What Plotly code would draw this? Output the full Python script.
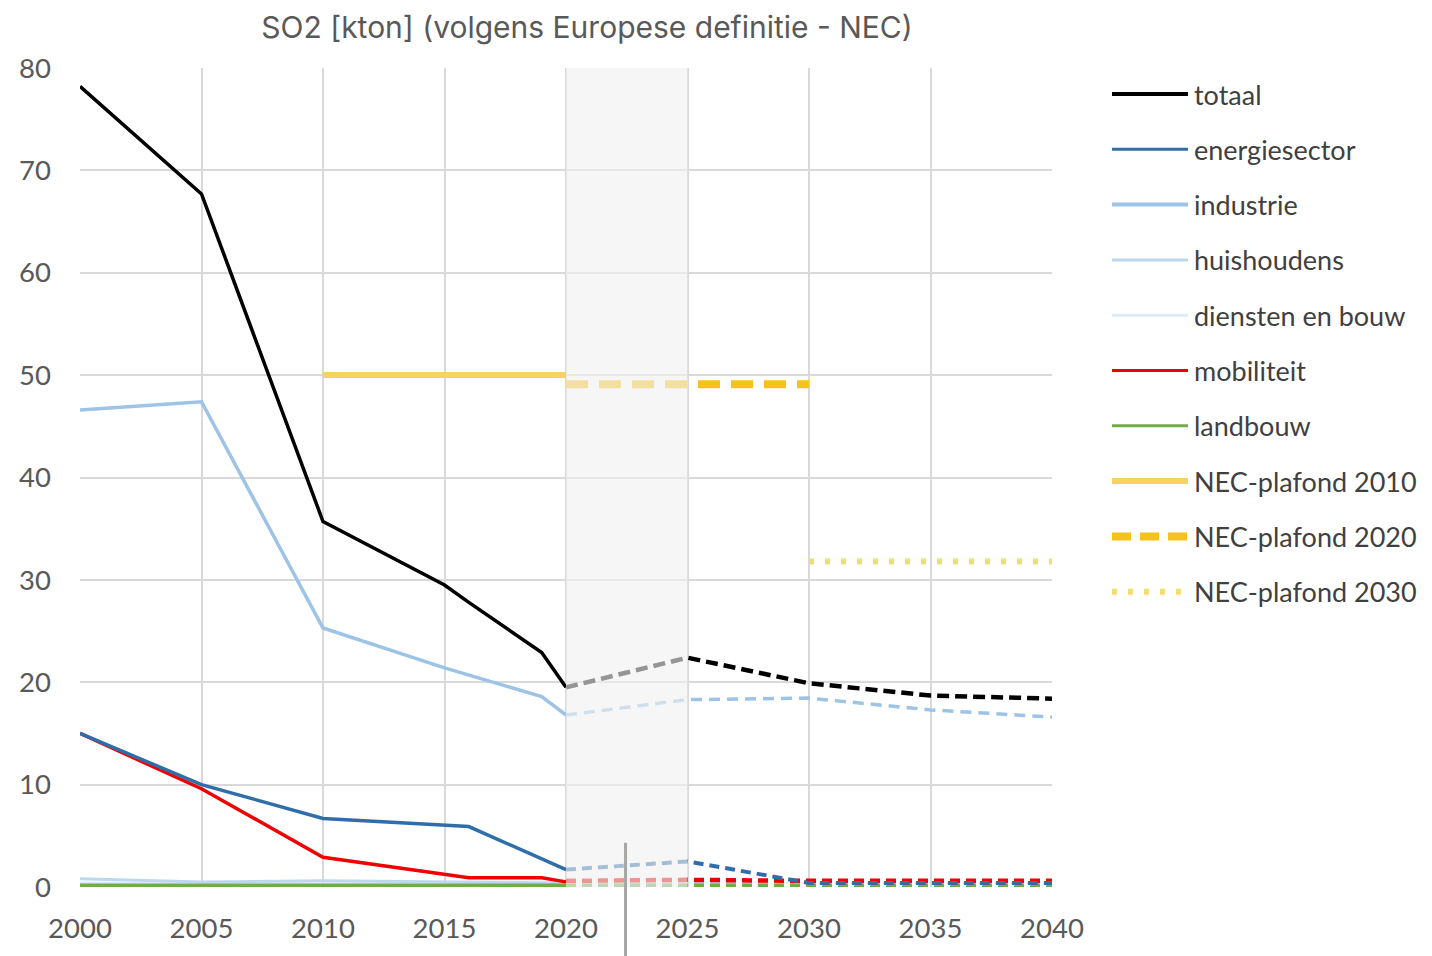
import plotly.graph_objects as go

# ---------------- data ----------------
totaal_years = [2000, 2005, 2010, 2015, 2016, 2019, 2020]
totaal_vals = [78.2, 67.7, 35.7, 29.5, 27.8, 22.9, 19.5]
totaal_proj_years = [2020, 2025, 2030, 2035, 2040]
totaal_proj_vals = [19.5, 22.4, 19.9, 18.7, 18.4]

energie_years = [2000, 2005, 2010, 2016, 2020]
energie_vals = [15.0, 10.0, 6.7, 5.9, 1.7]
energie_proj_years = [2020, 2025, 2030, 2035, 2040]
energie_proj_vals = [1.7, 2.5, 0.4, 0.4, 0.4]

industrie_years = [2000, 2005, 2010, 2015, 2019, 2020]
industrie_vals = [46.6, 47.4, 25.3, 21.4, 18.6, 16.8]
industrie_proj_years = [2020, 2025, 2030, 2035, 2040]
industrie_proj_vals = [16.8, 18.3, 18.45, 17.3, 16.6]

huis_years = [2000, 2005, 2010, 2015, 2020]
huis_vals = [0.8, 0.5, 0.6, 0.5, 0.4]
huis_proj_years = [2020, 2025, 2030, 2035, 2040]
huis_proj_vals = [0.4, 0.4, 0.3, 0.3, 0.3]

diensten_years = [2000, 2005, 2010, 2015, 2020]
diensten_vals = [0.4, 0.3, 0.3, 0.3, 0.3]
diensten_proj_years = [2020, 2025, 2030, 2035, 2040]
diensten_proj_vals = [0.3, 0.3, 0.3, 0.3, 0.3]

mob_years = [2000, 2005, 2010, 2015, 2016, 2019, 2020]
mob_vals = [15.0, 9.6, 2.9, 1.2, 0.9, 0.9, 0.5]
mob_proj_years = [2020, 2025, 2030, 2035, 2040]
mob_proj_vals = [0.6, 0.7, 0.6, 0.6, 0.6]

land_years = [2000, 2005, 2010, 2015, 2020]
land_vals = [0.1, 0.1, 0.1, 0.1, 0.1]
land_proj_years = [2020, 2025, 2030, 2035, 2040]
land_proj_vals = [0.1, 0.1, 0.1, 0.1, 0.1]

nec2010_years = [2010, 2020]
nec2010_vals = [50.0, 50.0]
nec2020_years = [2020, 2030]
nec2020_vals = [49.1, 49.1]
nec2030_years = [2030, 2040]
nec2030_vals = [31.8, 31.8]

shade_years = [2020, 2025]
marker_year = 2022.45

x_ticks = [2000, 2005, 2010, 2015, 2020, 2025, 2030, 2035, 2040]
y_ticks = [0, 10, 20, 30, 40, 50, 60, 70, 80]

title_text = "SO2 [kton] (volgens Europese definitie - NEC)"

# ---------------- styles ----------------
C_TOT = "#000000"
C_ENE = "#2F6EAA"
C_IND = "#9DC3E6"
C_HUI = "#BDD7EE"
C_DIE = "#DEEBF7"
C_MOB = "#F00000"
C_LAN = "#70AD47"
C_N10 = "#F6D35E"
C_N20 = "#F6C21E"
C_N30 = "#F1DE72"

FONT = "Lato"
TITLE_FONT = "Inter"
TXT = "#595959"

# page body has an 8px margin -> work in page pixels, subtract offset
OFF = 8
W, H = 1432 - OFF, 956 - OFF

fig = go.Figure()


def add(x, y, color, width, dash="solid", name=""):
    fig.add_trace(go.Scatter(x=x, y=y, mode="lines", name=name,
                             line=dict(color=color, width=width, dash=dash),
                             showlegend=False, hoverinfo="x+y+name"))


# lower series first, totaal on top
add(diensten_years, diensten_vals, C_DIE, 3, name="diensten en bouw")
add(diensten_proj_years, diensten_proj_vals, C_DIE, 3, "10px,6px", "diensten en bouw")
add(huis_years, huis_vals, C_HUI, 3, name="huishoudens")
add(huis_proj_years, huis_proj_vals, C_HUI, 3, "10px,6px", "huishoudens")
add(land_years, land_vals, C_LAN, 5, name="landbouw")
add(land_proj_years, land_proj_vals, C_LAN, 5, "10px,6px", "landbouw")
add(mob_years, mob_vals, C_MOB, 3.5, name="mobiliteit")
add(mob_proj_years, mob_proj_vals, C_MOB, 4.5, "10px,6px", "mobiliteit")
add(energie_years, energie_vals, C_ENE, 3.5, name="energiesector")
add(energie_proj_years, energie_proj_vals, C_ENE, 4, "10px,6px", "energiesector")
add(industrie_years, industrie_vals, C_IND, 3.5, name="industrie")
add(industrie_proj_years, industrie_proj_vals, C_IND, 3.5, "11px,7px", "industrie")
add(nec2010_years, nec2010_vals, C_N10, 6, name="NEC-plafond 2010")
add(nec2020_years, nec2020_vals, C_N20, 8, "22px,11px", "NEC-plafond 2020")
add(nec2030_years, nec2030_vals, C_N30, 6, "5px,11px", "NEC-plafond 2030")
add(totaal_years, totaal_vals, C_TOT, 3.5, name="totaal")
add(totaal_proj_years, totaal_proj_vals, C_TOT, 4.5, "12px,6px", "totaal")

# shaded (faded) transition band drawn on top of the lines
fig.add_shape(type="rect", xref="x", yref="y", x0=shade_years[0], x1=shade_years[1],
              y0=y_ticks[0], y1=y_ticks[-1], layer="above",
              fillcolor="rgba(240,240,240,0.62)", line=dict(width=0))

# stray vertical marker below the axis
fig.add_shape(type="line", xref="x", yref="paper", x0=marker_year, x1=marker_year,
              y0=0.054, y1=-0.09, layer="above",
              line=dict(color="#A6A6A6", width=3))

# ---------------- manual legend ----------------
legend_items = [
    ("totaal", C_TOT, 4, "solid"),
    ("energiesector", C_ENE, 3, "solid"),
    ("industrie", C_IND, 4, "solid"),
    ("huishoudens", C_HUI, 3, "solid"),
    ("diensten en bouw", C_DIE, 3, "solid"),
    ("mobiliteit", C_MOB, 3, "solid"),
    ("landbouw", C_LAN, 3, "solid"),
    ("NEC-plafond 2010", C_N10, 6, "solid"),
    ("NEC-plafond 2020", C_N20, 8, "19px,9px"),
    ("NEC-plafond 2030", C_N30, 6, "5px,11px"),
]
PL, PR, PT, PB = 80 - OFF, 1052 - OFF, 68 - OFF, 887 - OFF
pw, ph = PR - PL, PB - PT
leg_y0 = 94 - OFF
leg_dy = 55.3
for i, (name, col, w, dash) in enumerate(legend_items):
    py = leg_y0 + i * leg_dy
    yp = (PB - py) / ph
    fig.add_shape(type="line", xref="paper", yref="paper",
                  x0=(1112 - OFF - PL) / pw, x1=(1188 - OFF - PL) / pw, y0=yp, y1=yp,
                  line=dict(color=col, width=w, dash=dash))
    fig.add_annotation(xref="paper", yref="paper", x=(1192 - OFF - PL) / pw, y=yp,
                       text=name, showarrow=False, xanchor="left", yanchor="middle",
                       font=dict(family=FONT, size=27, color="#404040"))

fig.update_layout(
    width=W, height=H,
    margin=dict(l=PL, r=W - PR, t=PT, b=H - PB),
    paper_bgcolor="white", plot_bgcolor="white",
    showlegend=False,
    title=dict(text=title_text, x=(587 - OFF) / W, xanchor="center", xref="container",
               y=1 - 9 / H, yanchor="top", yref="container",
               font=dict(family=TITLE_FONT, size=30, color=TXT)),
    font=dict(family=FONT, color=TXT),
)
fig.update_xaxes(range=[x_ticks[0], x_ticks[-1]], tickvals=x_ticks,
                 showgrid=True, gridcolor="#D9D9D9", gridwidth=2,
                 zeroline=False, showline=False, ticks="",
                 ticklabelstandoff=22,
                 tickfont=dict(family=FONT, size=27.5, color=TXT))
fig.update_yaxes(range=[y_ticks[0], y_ticks[-1]], tickvals=y_ticks,
                 showgrid=True, gridcolor="#D9D9D9", gridwidth=2,
                 zeroline=False, showline=False, ticks="",
                 ticklabelstandoff=28,
                 tickfont=dict(family=FONT, size=27.5, color=TXT))

fig.write_html("out.html")
